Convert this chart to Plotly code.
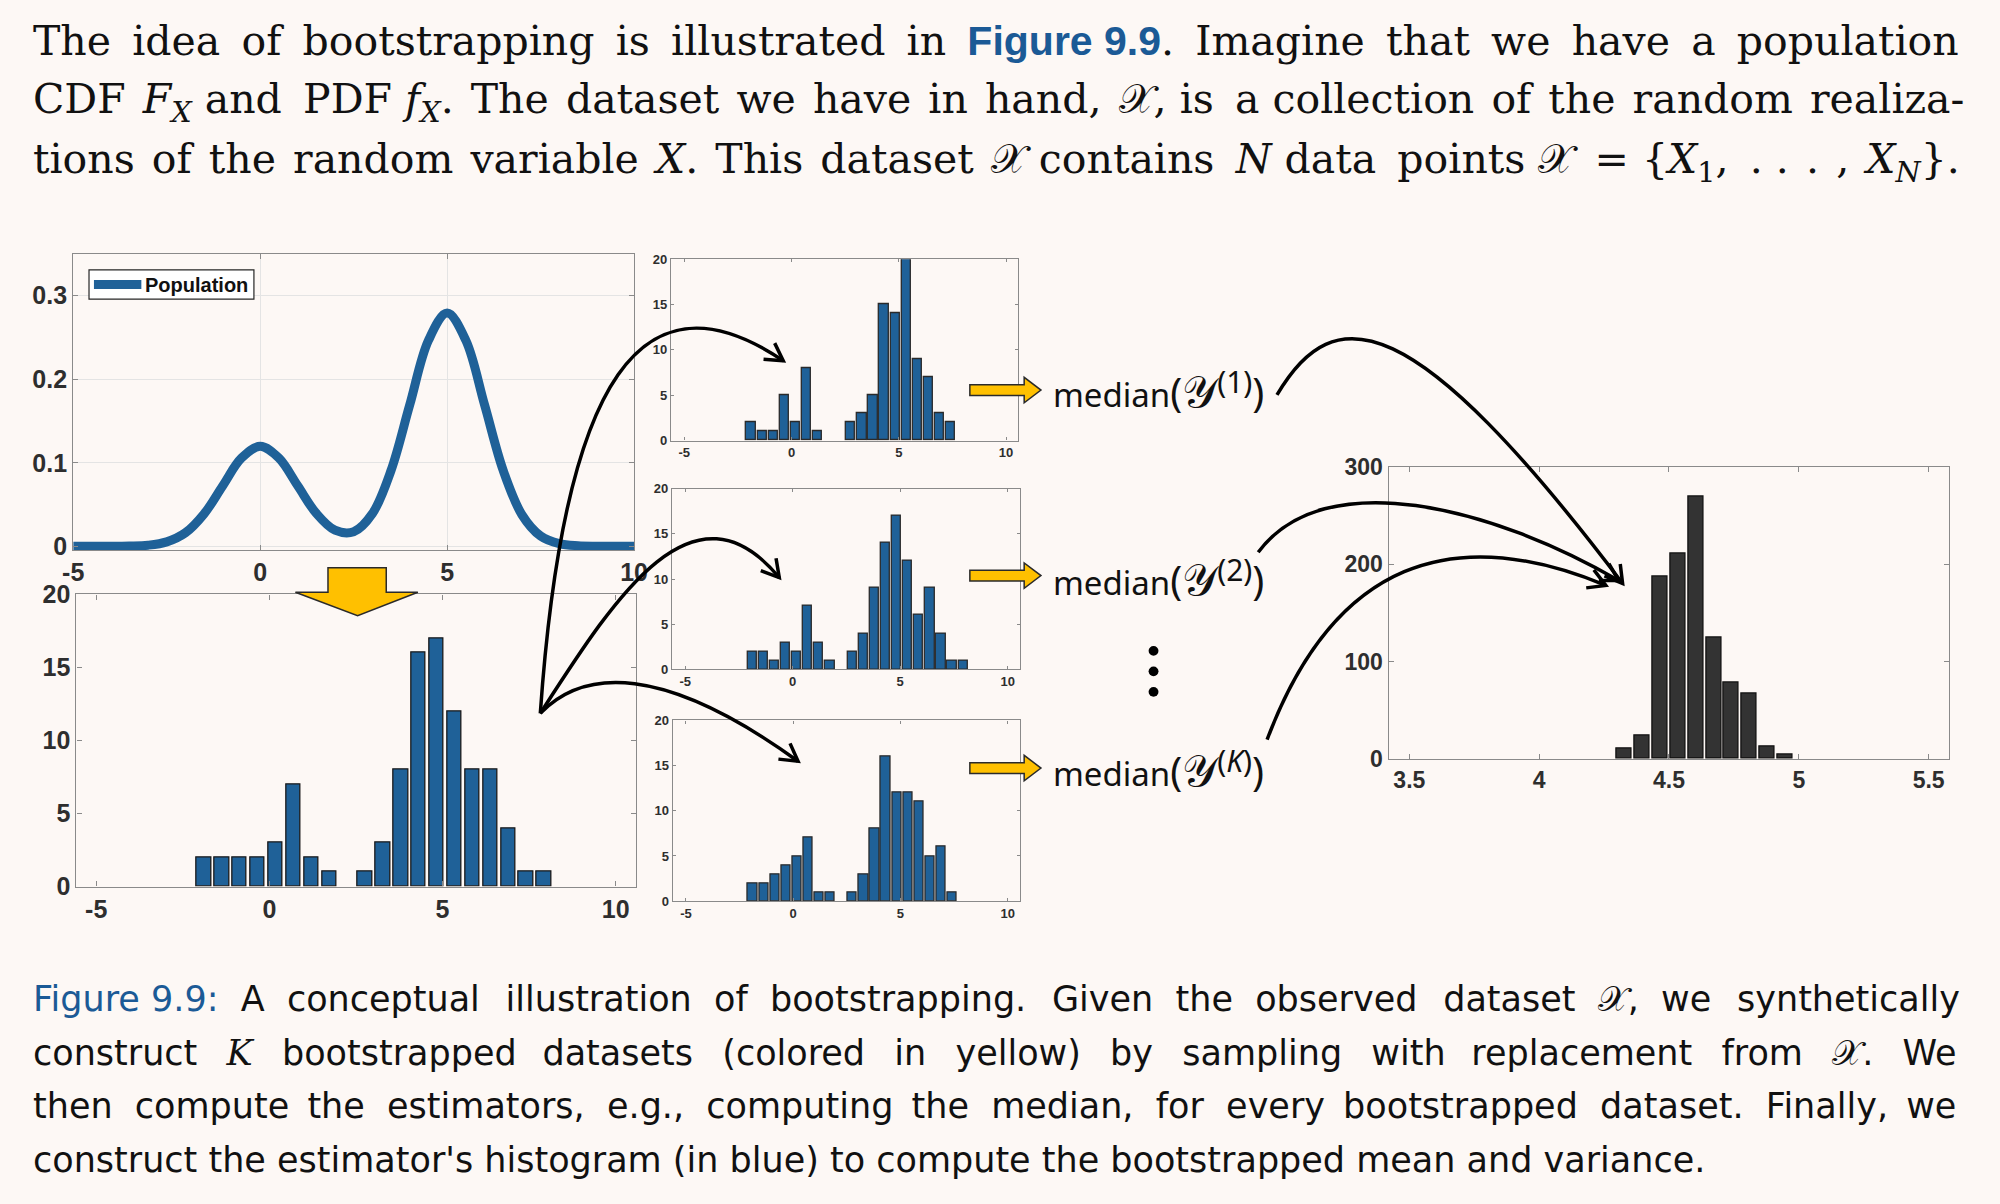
import math
import plotly.graph_objects as go

# ---------------- data ----------------
pop_x = [-5.0, -4.5, -4.0, -3.5, -3.0, -2.5, -2.0, -1.5, -1.0, -0.5, 0.0, 0.5, 1.0, 1.5,
         2.0, 2.5, 3.0, 3.5, 4.0, 4.5, 5.0, 5.5, 6.0, 6.5, 7.0, 7.5, 8.0, 8.5, 9.0, 9.5, 10.0]
pop_pdf = [0.0, 0.0, 0.0, 0.0003, 0.0013, 0.0053, 0.0162, 0.0389, 0.0726, 0.1056, 0.1197,
           0.1056, 0.0727, 0.0395, 0.0193, 0.0175, 0.0391, 0.0909, 0.1694, 0.2465, 0.2792,
           0.2465, 0.1694, 0.0907, 0.0378, 0.0123, 0.0031, 0.0006, 0.0001, 0.0, 0.0]

bin_centers = [-1.89, -1.37, -0.86, -0.34, 0.18, 0.70, 1.21, 1.73, 2.25, 2.76,
               3.28, 3.80, 4.31, 4.83, 5.35, 5.86, 6.38, 6.90, 7.41, 7.93]
observed_counts = [2, 2, 2, 2, 3, 7, 2, 1, 0, 1, 3, 8, 16, 17, 12, 8, 8, 4, 1, 1]
boot1_counts = [2, 1, 1, 5, 2, 8, 1, 0, 0, 2, 3, 5, 15, 14, 20, 9, 7, 3, 2, 0]
boot2_counts = [2, 2, 1, 3, 2, 7, 3, 1, 0, 2, 4, 9, 14, 17, 12, 6, 9, 4, 1, 1]
bootK_counts = [2, 2, 3, 4, 5, 7, 1, 1, 0, 1, 3, 8, 16, 12, 12, 11, 5, 6, 1, 0]

median_centers = [4.328, 4.397, 4.465, 4.534, 4.603, 4.672, 4.740, 4.809, 4.878, 4.946]
median_counts = [11, 24, 187, 211, 269, 125, 78, 67, 13, 5]

pop_xticks = [-5, 0, 5, 10]
pop_yticks = [0, 0.1, 0.2, 0.3]
hist_yticks = [0, 5, 10, 15, 20]
med_xticks = [3.5, 4, 4.5, 5, 5.5]
med_yticks = [0, 100, 200, 300]

median_labels = ["(1)", "(2)", "(<i>K</i>)"]
legend_label = "Population"

# ---------------- style ----------------
W, H = 2000, 1204
BG = "#fdf8f5"
BLUE = "#1f6198"
DARK = "#333333"
YELLOW = "#ffc000"
TXTBLUE = "#1b5a96"
AXC = "#8a8a8a"
TICKFONT = "Liberation Sans"
NB = "\u00a0"


def xdom(a, b):
    return [a / W, b / W]


def ydom(top, bottom):
    return [1 - bottom / H, 1 - top / H]


def P(x, y):
    return f"{x / W:.5f},{1 - y / H:.5f}"


fig = go.Figure()

# population pdf
fig.add_trace(go.Scatter(x=pop_x, y=pop_pdf, mode="lines", name=legend_label,
                         line=dict(color=BLUE, width=9, shape="spline", smoothing=1.0),
                         xaxis="x", yaxis="y", showlegend=False, hoverinfo="skip"))


def add_hist(centers, counts, xa, ya, color, edge, width):
    xs = [c for c, n in zip(centers, counts) if n > 0]
    ys = [n for n in counts if n > 0]
    fig.add_trace(go.Bar(x=xs, y=ys, width=width, xaxis=xa, yaxis=ya, showlegend=False,
                         marker=dict(color=color, line=dict(color=edge, width=1.3))))


add_hist(bin_centers, observed_counts, "x2", "y2", BLUE, "#1a1a1a", 0.415)
add_hist(bin_centers, boot1_counts, "x3", "y3", BLUE, "#2a2a2a", 0.43)
add_hist(bin_centers, boot2_counts, "x4", "y4", BLUE, "#2a2a2a", 0.43)
add_hist(bin_centers, bootK_counts, "x5", "y5", BLUE, "#2a2a2a", 0.43)
add_hist(median_centers, median_counts, "x6", "y6", DARK, "#111111", 0.058)


def ax(**kw):
    base = dict(showline=True, linecolor=AXC, linewidth=1.2, mirror="ticks", ticks="inside",
                tickcolor=AXC, ticklen=5, zeroline=False, showgrid=False, fixedrange=True)
    base.update(kw)
    return base


def tf(size):
    return dict(family=TICKFONT, size=size, color="#2e2e2e", weight="bold")


lab = lambda vals: [("-" + str(abs(v))) if v < 0 else str(v) for v in vals]

small_x = [[668.3, 1020.0, 251.0, 436.7], [669.3, 1021.7, 486.0, 671.0], [670.0, 1021.7, 723.3, 908.3]]

layout_axes = dict(
    xaxis=ax(domain=xdom(63, 631), range=[-5, 10], tickvals=pop_xticks, ticktext=lab(pop_xticks),
             showgrid=True, gridcolor="#e4e4e4", tickfont=tf(25), anchor="y"),
    yaxis=ax(domain=ydom(245.7, 549), range=[-0.0047, 0.35], tickvals=pop_yticks,
             ticktext=["0", "0.1", "0.2", "0.3"], showgrid=True, gridcolor="#e4e4e4",
             tickfont=tf(25), anchor="x"),
    xaxis2=ax(domain=xdom(66.3, 633), range=[-5.57, 10.59], tickvals=pop_xticks,
              ticktext=lab(pop_xticks), tickfont=tf(25), anchor="y2"),
    yaxis2=ax(domain=ydom(594.3, 893.3), range=[0, 20], tickvals=hist_yticks,
              tickfont=tf(25), anchor="x2"),
    xaxis6=ax(domain=xdom(1395, 1962.4), range=[3.42, 5.578], tickvals=med_xticks,
              ticktext=["3.5", "4", "4.5", "5", "5.5"], tickfont=tf(23), anchor="y6"),
    yaxis6=ax(domain=ydom(463.3, 762.7), range=[0, 300], tickvals=med_yticks,
              tickfont=tf(23), anchor="x6"),
)
for i, (l, r, t, b) in enumerate(small_x):
    n = i + 3
    layout_axes[f"xaxis{n}"] = ax(domain=xdom(l, r), range=[-5.62, 10.57], tickvals=pop_xticks,
                                  ticktext=lab(pop_xticks), tickfont=tf(13), ticklen=3,
                                  anchor=f"y{n}")
    layout_axes[f"yaxis{n}"] = ax(domain=ydom(t, b), range=[0, 20], tickvals=hist_yticks,
                                  tickfont=tf(13), ticklen=3, anchor=f"x{n}")

fig.update_layout(**layout_axes)

# ---------------- decorations ----------------
shapes = []

# legend box of the population panel
shapes.append(dict(type="rect", xref="paper", yref="paper", x0=79 / W, x1=246 / W,
                   y0=1 - 292 / H, y1=1 - 262 / H, fillcolor="white",
                   line=dict(color="#262626", width=1.2)))
shapes.append(dict(type="line", xref="paper", yref="paper", x0=84 / W, x1=132 / W,
                   y0=1 - 277 / H, y1=1 - 277 / H, line=dict(color=BLUE, width=9)))

# yellow down arrow
down = [(321, 567), (380, 567), (380, 592), (412, 592), (351, 616), (288, 592), (321, 592)]
shapes.append(dict(type="path", xref="paper", yref="paper",
                   path="M " + " L ".join(P(*p) for p in down) + " Z",
                   fillcolor=YELLOW, line=dict(color="#2a2a2a", width=1.5)))

# yellow right arrows
for yc in [385, 575, 772]:
    x0 = 971
    pts = [(x0, yc - 5.5), (x0 + 55, yc - 5.5), (x0 + 55, yc - 13), (x0 + 72, yc),
           (x0 + 55, yc + 13), (x0 + 55, yc + 5.5), (x0, yc + 5.5)]
    shapes.append(dict(type="path", xref="paper", yref="paper",
                       path="M " + " L ".join(P(*p) for p in pts) + " Z",
                       fillcolor=YELLOW, line=dict(color="#2a2a2a", width=1.5)))

# black curved arrows (cubic Bezier control points, in page pixels)
curves = [
    [(536, 716), (560, 370), (640, 258), (782, 355)],
    [(536, 716), (610, 600), (690, 470), (778, 577)],
    [(536, 716), (580, 670), (660, 665), (797, 765)],
    [(1282, 390), (1340, 290), (1420, 300), (1632, 583)],
    [(1263, 551), (1330, 460), (1500, 505), (1628, 580)],
    [(1272, 743), (1340, 560), (1460, 520), (1615, 585)],
]
for p0, p1, p2, p3 in curves:
    shapes.append(dict(type="path", xref="paper", yref="paper",
                       path=f"M {P(*p0)} C {P(*p1)} {P(*p2)} {P(*p3)}",
                       line=dict(color="black", width=3.5)))
    dx, dy = p3[0] - p2[0], p3[1] - p2[1]
    d = math.hypot(dx, dy)
    ux, uy = dx / d, dy / d
    L, ang = 20, math.radians(30)
    arms = []
    for s in (1, -1):
        ca, sa = math.cos(s * ang), math.sin(s * ang)
        rx, ry = ux * ca - uy * sa, ux * sa + uy * ca
        arms.append((p3[0] - L * rx, p3[1] - L * ry))
    shapes.append(dict(type="path", xref="paper", yref="paper",
                       path=f"M {P(*arms[0])} L {P(*p3)} L {P(*arms[1])}",
                       line=dict(color="black", width=3.5)))

# vertical ellipsis dots
for yc in [652, 673, 694]:
    shapes.append(dict(type="circle", xref="paper", yref="paper",
                       x0=(1157 - 5) / W, x1=(1157 + 5) / W,
                       y0=1 - (yc + 5) / H, y1=1 - (yc - 5) / H,
                       fillcolor="black", line=dict(color="black", width=0)))

fig.update_layout(shapes=shapes)

# ---------------- texts ----------------
SERIF = "DejaVu Serif"
SANS = "DejaVu Sans"
SCRX = "𝒳"
annotations = []


def text(x, y, s, family, size, color="#111111", anchor="left"):
    annotations.append(dict(x=x / W, y=1 - y / H, xref="paper", yref="paper", text=s,
                            showarrow=False, xanchor=anchor, yanchor="middle",
                            font=dict(family=family, size=size, color=color)))


def justify(tokens, extra_px, size):
    """join words, spreading about `extra_px` of additional space over the gaps"""
    units = [(NB, 0.318 * size), ("\u2009", 0.2 * size), ("\u200a", 0.1 * size)]
    gaps = len(tokens) - 1
    out, done = tokens[0], 0.0
    for i, t in enumerate(tokens[1:]):
        need = extra_px * (i + 1) / gaps - done
        pad = ""
        for ch, w in units:
            while need >= w * 0.8:
                pad += ch
                need -= w
                done += w
        out += " " + pad + t
    return out


text(134, 277, f"<b>{legend_label}</b>", "Liberation Sans", 20)

fig_link = f"<span style='font-family:Liberation Sans;color:{TXTBLUE}'><b>Figure{NB}9.9</b></span>"
top_tokens = [
    ["The", "idea", "of", "bootstrapping", "is", "illustrated", "in", fig_link + ".",
     "Imagine", "that", "we", "have", "a", "population"],
    ["CDF", "<i>F</i><sub><i>X</i></sub>", "and", "PDF", "<i>f</i><sub><i>X</i></sub>.", "The",
     "dataset", "we", "have", "in", "hand,", SCRX + ",", "is", "a", "collection", "of", "the",
     "random", "realiza-"],
    ["tions", "of", "the", "random", "variable", "<i>X</i>.", "This", "dataset", SCRX,
     "contains", "<i>N</i>", "data", "points", SCRX, "=",
     "{<i>X</i><sub>1</sub>,", ".", ".", ".", ",", "<i>X</i><sub><i>N</i></sub>}."],
]
top_extra = [108, 66, 80]
for y, toks, ex in zip([28, 90, 151.5], top_tokens, top_extra):
    text(20, y, justify(toks, ex, 41), SERIF, 41)

mathK = "<span style='font-family:DejaVu Serif'><i>K</i></span>"
cap_tokens = [
    [f"<span style='color:{TXTBLUE}'>Figure{NB}9.9:</span>", "A", "conceptual", "illustration",
     "of", "bootstrapping.", "Given", "the", "observed", "dataset", SCRX + ",", "we",
     "synthetically"],
    ["construct", mathK, "bootstrapped", "datasets", "(colored", "in", "yellow)", "by",
     "sampling", "with", "replacement", "from", SCRX + ".", "We"],
    ["then", "compute", "the", "estimators,", "e.g.,", "computing", "the", "median,", "for",
     "every", "bootstrapped", "dataset.", "Finally,", "we"],
    ["construct", "the", "estimator's", "histogram", "(in", "blue)", "to", "compute", "the",
     "bootstrapped", "mean", "and", "variance."],
]
cap_extra = [148, 229, 130, 0]
for y, toks, ex in zip([1008.5, 1063.5, 1118.5, 1173], cap_tokens, cap_extra):
    text(20, y, justify(toks, ex, 35), SANS, 35)

for y, sup in zip([385, 577, 773], median_labels):
    text(1053, y,
         "median<span style='font-size:40px'>(</span><span style='font-size:44px'>𝒴</span>"
         f"<sup><span style='font-size:30px'>{sup}</span></sup>"
         "<span style='font-size:40px'>)</span>",
         "Noto Sans", 33)

fig.update_layout(annotations=annotations)

fig.update_layout(
    width=W, height=H, margin=dict(l=0, r=0, t=0, b=0),
    paper_bgcolor=BG, plot_bgcolor=BG, barmode="overlay", bargap=0,
    showlegend=False,
)

fig.write_html("out.html")
